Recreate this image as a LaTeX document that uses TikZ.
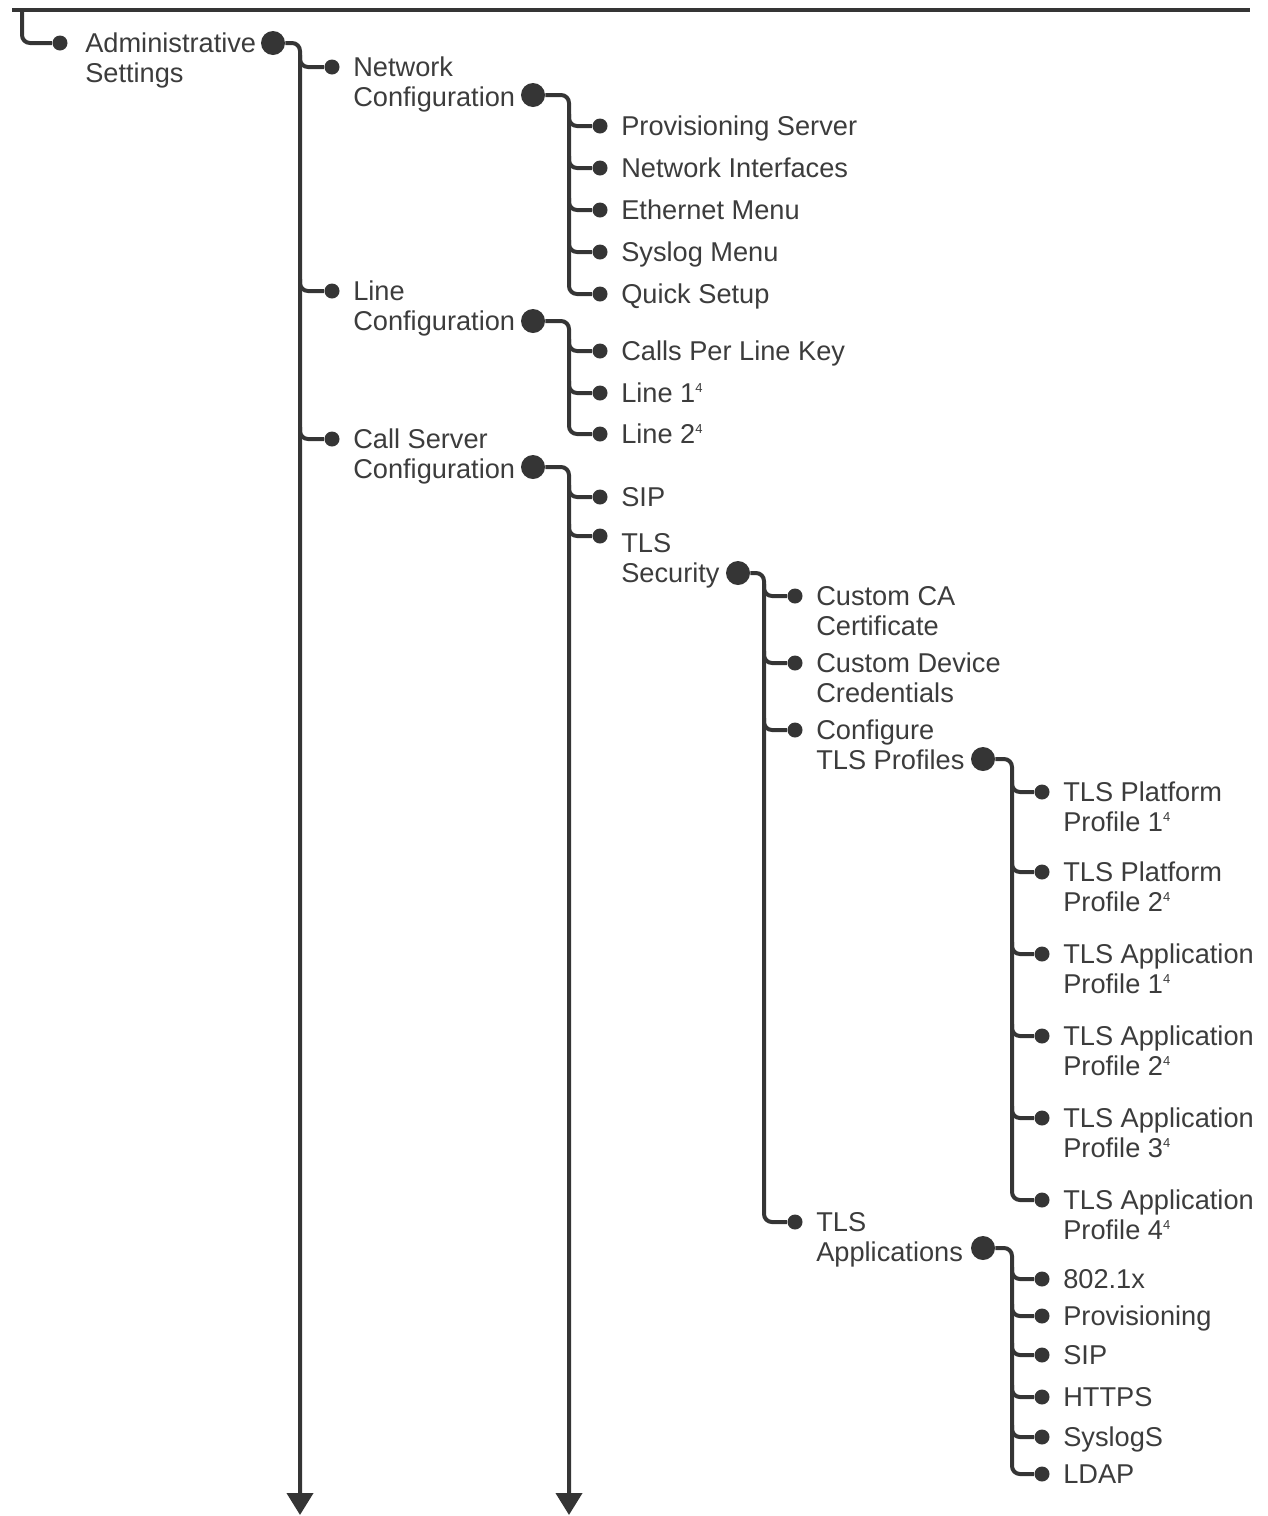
\documentclass[tikz,border=0pt]{standalone}
\usepackage{fontspec}
\setmainfont{Liberation Sans}
\usepackage{xcolor}
\definecolor{MenuInk}{HTML}{353535}
\definecolor{MenuText}{HTML}{3C3C3C}
\usetikzlibrary{arrows.meta,positioning,calc}
\newcommand{\fnmark}[1]{\raisebox{5.2pt}{\fontsize{6.5pt}{6.5pt}\selectfont #1}}

\begin{document}
\begin{tikzpicture}[
  x=0.5pt,y=-0.5pt,
  node distance=6.5pt,
  tree/.style={draw=MenuInk,line width=2pt,rounded corners=4pt},
  down/.style={tree,-{Triangle[width=13pt,length=11pt]}},
  leaf/.style={circle,fill=MenuInk,inner sep=0pt,minimum size=7.5pt},
  hub/.style={circle,fill=MenuInk,inner sep=0pt,minimum size=12pt},
  lbl/.style={inner sep=0pt,align=left,text=MenuText,font=\fontsize{13.6pt}{15pt}\selectfont,text height=9.7pt,text depth=0pt},
  lbltwo/.style={lbl,yshift=-15pt}
]
  \useasboundingbox (0,0) rectangle (1268,1516);
  % trunk lines
  \coordinate (topL) at (12,10);
  \coordinate (topR) at (1250,10);
  \coordinate (topK) at (22,10);
  \coordinate (v1) at (300,0);
  \coordinate (v2) at (569,0);
  \coordinate (v3) at (764,0);
  \coordinate (v4) at (1012,0);
  \coordinate (end1) at (300,1515);
  \coordinate (end2) at (569,1515);

  % level 0
  \node[leaf] (root) at (60,43) {};
  \node[lbltwo,right=8.5pt of root] {Administrative\\Settings};
  \node[hub] (adm) at (273,43) {};

  % level 1
  \node[leaf] (net) at (332,67) {};
  \node[lbltwo,right=of net] {Network\\Configuration};
  \node[hub] (ncfg) at (533,95) {};
  \node[leaf] (line) at (332,291) {};
  \node[lbltwo,right=of line] {Line\\Configuration};
  \node[hub] (lcfg) at (533,321) {};
  \node[leaf] (csrv) at (332,439) {};
  \node[lbltwo,right=of csrv] {Call Server\\Configuration};
  \node[hub] (ccfg) at (533,467) {};

  % level 2
  \node[leaf] (ps) at (600,126) {};
  \node[lbl,right=of ps] {Provisioning Server};
  \node[leaf] (ni) at (600,168) {};
  \node[lbl,right=of ni] {Network Interfaces};
  \node[leaf] (em) at (600,210) {};
  \node[lbl,right=of em] {Ethernet Menu};
  \node[leaf] (sm) at (600,252) {};
  \node[lbl,right=of sm] {Syslog Menu};
  \node[leaf] (qs) at (600,294) {};
  \node[lbl,right=of qs] {Quick Setup};
  \node[leaf] (cpl) at (600,351) {};
  \node[lbl,right=of cpl] {Calls Per Line Key};
  \node[leaf] (l1) at (600,393) {};
  \node[lbl,right=of l1] {Line 1\fnmark{4}};
  \node[leaf] (l2) at (600,434) {};
  \node[lbl,right=of l2] {Line 2\fnmark{4}};
  \node[leaf] (sip) at (600,497) {};
  \node[lbl,right=of sip] {SIP};
  \node[leaf] (tls) at (600,536) {};
  \node[lbltwo,right=of tls,yshift=-3.5pt] {TLS\\Security};
  \node[hub] (tsec) at (738,573) {};

  % level 3
  \node[leaf] (cca) at (795,596) {};
  \node[lbltwo,right=of cca] {Custom CA\\Certificate};
  \node[leaf] (cdc) at (795,663) {};
  \node[lbltwo,right=of cdc] {Custom Device\\Credentials};
  \node[leaf] (ctp) at (795,730) {};
  \node[lbltwo,right=of ctp] {Configure\\TLS Profiles};
  \node[hub] (tprof) at (983,759) {};
  \node[leaf] (tap) at (795,1222) {};
  \node[lbltwo,right=of tap] {TLS\\Applications};
  \node[hub] (tapps) at (983,1248) {};

  % level 4
  \node[leaf] (pp1) at (1042,792) {};
  \node[lbltwo,right=of pp1] {TLS Platform\\Profile 1\fnmark{4}};
  \node[leaf] (pp2) at (1042,872) {};
  \node[lbltwo,right=of pp2] {TLS Platform\\Profile 2\fnmark{4}};
  \node[leaf] (ap1) at (1042,954) {};
  \node[lbltwo,right=of ap1] {TLS Application\\Profile 1\fnmark{4}};
  \node[leaf] (ap2) at (1042,1036) {};
  \node[lbltwo,right=of ap2] {TLS Application\\Profile 2\fnmark{4}};
  \node[leaf] (ap3) at (1042,1118) {};
  \node[lbltwo,right=of ap3] {TLS Application\\Profile 3\fnmark{4}};
  \node[leaf] (ap4) at (1042,1200) {};
  \node[lbltwo,right=of ap4] {TLS Application\\Profile 4\fnmark{4}};
  \node[leaf] (dot1x) at (1042,1279) {};
  \node[lbl,right=of dot1x] {802.1x};
  \node[leaf] (prov) at (1042,1316) {};
  \node[lbl,right=of prov] {Provisioning};
  \node[leaf] (sip2) at (1042,1355) {};
  \node[lbl,right=of sip2] {SIP};
  \node[leaf] (https) at (1042,1397) {};
  \node[lbl,right=of https] {HTTPS};
  \node[leaf] (slog) at (1042,1437) {};
  \node[lbl,right=of slog] {SyslogS};
  \node[leaf] (ldap) at (1042,1474) {};
  \node[lbl,right=of ldap] {LDAP};

  % connectors
  \draw[tree,line width=1.7pt,rounded corners=0pt] (topL) -- (topR);
  \draw[tree] (topK) |- (root);
  \draw[down] (adm) -| (end1);
  \foreach \n in {net,line,csrv} \draw[tree] ($(\n -| v1)+(0,-12)$) |- (\n);
  \draw[tree] (ncfg) -| (qs -| v2) -- (qs);
  \foreach \n in {ps,ni,em,sm} \draw[tree] ($(\n -| v2)+(0,-12)$) |- (\n);
  \draw[tree] (lcfg) -| (l2 -| v2) -- (l2);
  \foreach \n in {cpl,l1} \draw[tree] ($(\n -| v2)+(0,-12)$) |- (\n);
  \draw[down] (ccfg) -| (end2);
  \foreach \n in {sip,tls} \draw[tree] ($(\n -| v2)+(0,-12)$) |- (\n);
  \draw[tree] (tsec) -| (tap -| v3) -- (tap);
  \foreach \n in {cca,cdc,ctp} \draw[tree] ($(\n -| v3)+(0,-12)$) |- (\n);
  \draw[tree] (tprof) -| (ap4 -| v4) -- (ap4);
  \foreach \n in {pp1,pp2,ap1,ap2,ap3} \draw[tree] ($(\n -| v4)+(0,-12)$) |- (\n);
  \draw[tree] (tapps) -| (ldap -| v4) -- (ldap);
  \foreach \n in {dot1x,prov,sip2,https,slog} \draw[tree] ($(\n -| v4)+(0,-12)$) |- (\n);
\end{tikzpicture}
\end{document}
